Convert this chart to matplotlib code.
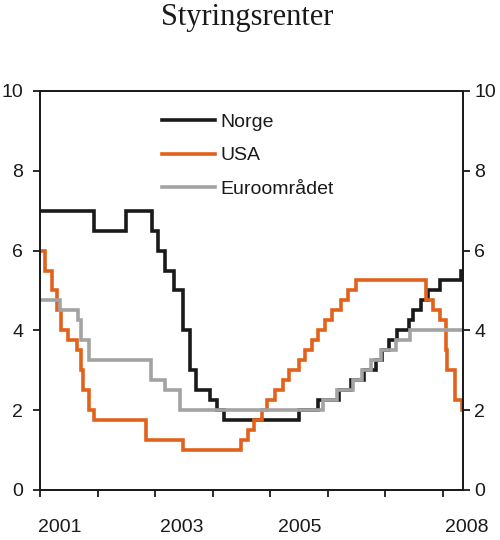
import matplotlib
matplotlib.use("Agg")
import matplotlib.pyplot as plt
import pandas as pd

plt.rcParams['font.family'] = ['Liberation Sans', 'DejaVu Sans']

# ---- data ----
norge_dates = ["2001-01-01", "2001-12-12", "2002-07-03", "2002-12-11", "2003-01-22",
               "2003-03-05", "2003-04-30", "2003-06-25", "2003-08-13", "2003-09-17",
               "2003-12-17", "2004-01-28", "2004-03-11", "2005-06-30", "2005-11-02",
               "2006-03-16", "2006-05-31", "2006-08-16", "2006-11-01", "2006-12-13",
               "2007-01-24", "2007-03-15", "2007-05-30", "2007-06-27", "2007-08-15",
               "2007-09-26", "2007-12-12", "2008-04-23"]
norge_rates = [7.0, 6.5, 7.0, 6.5, 6.0,
               5.5, 5.0, 4.0, 3.0, 2.5,
               2.25, 2.0, 1.75, 2.0, 2.25,
               2.5, 2.75, 3.0, 3.25, 3.5,
               3.75, 4.0, 4.25, 4.5, 4.75,
               5.0, 5.25, 5.5]

usa_dates = ["2001-01-01", "2001-01-31", "2001-03-20", "2001-04-18", "2001-05-15",
             "2001-06-27", "2001-08-21", "2001-09-17", "2001-10-02", "2001-11-06",
             "2001-12-11", "2002-11-06", "2003-06-25", "2004-06-30", "2004-08-10",
             "2004-09-21", "2004-11-10", "2004-12-14", "2005-02-02", "2005-03-22",
             "2005-05-03", "2005-06-30", "2005-08-09", "2005-09-20", "2005-11-01",
             "2005-12-13", "2006-01-31", "2006-03-28", "2006-05-10", "2006-06-29",
             "2007-09-18", "2007-10-31", "2007-12-11", "2008-01-22", "2008-01-30",
             "2008-03-18", "2008-04-30"]
usa_rates = [6.0, 5.5, 5.0, 4.5, 4.0,
             3.75, 3.5, 3.0, 2.5, 2.0,
             1.75, 1.25, 1.0, 1.25, 1.5,
             1.75, 2.0, 2.25, 2.5, 2.75,
             3.0, 3.25, 3.5, 3.75, 4.0,
             4.25, 4.5, 4.75, 5.0, 5.25,
             4.75, 4.5, 4.25, 3.5, 3.0,
             2.25, 2.0]

euro_dates = ["2001-01-01", "2001-05-10", "2001-08-30", "2001-09-17", "2001-11-08",
              "2002-12-05", "2003-03-06", "2003-06-05", "2005-12-01", "2006-03-02",
              "2006-06-08", "2006-08-03", "2006-10-05", "2006-12-07", "2007-03-08",
              "2007-06-06"]
euro_rates = [4.75, 4.5, 4.25, 3.75, 3.25,
              2.75, 2.5, 2.0, 2.25, 2.5,
              2.75, 3.0, 3.25, 3.5, 3.75,
              4.0]

series_names = ["Norge", "USA", "Euroområdet"]
end_date = "2008-05-08"
year_ticks = [2001, 2002, 2003, 2004, 2005, 2006, 2007, 2008]
year_labels = ["2001", "2003", "2005", "2008"]
y_ticks = [0, 2, 4, 6, 8, 10]


def to_decimal_year(dates):
    d = pd.to_datetime(pd.Series(dates))
    days = d.dt.is_leap_year.map({True: 366.0, False: 365.0})
    return list(d.dt.year + (d.dt.dayofyear - 1) / days)


def stepdata(dates, rates):
    x = to_decimal_year(list(dates) + [end_date])
    y = list(rates) + [rates[-1]]
    return x, y


colors = ["#1a1a1a", "#E2621C", "#A3A3A3"]
ink = "#1a1a1a"
xmax = to_decimal_year([end_date])[0]

fig = plt.figure(figsize=(5.0, 5.4), dpi=100)
ax = fig.add_axes([0.08, 0.0926, 0.846, 0.739])

for (d, r), name, c in zip([(norge_dates, norge_rates), (usa_dates, usa_rates),
                            (euro_dates, euro_rates)], series_names, colors):
    x, y = stepdata(d, r)
    ax.step(x, y, where="post", color=c, lw=2.6, label=name, solid_joinstyle="miter")

ax.set_xlim(2001.0, xmax)
ax.set_ylim(0, 10)
ax.set_yticks(y_ticks)
ax.set_yticklabels([str(v) for v in y_ticks])
ax.set_xticks(year_ticks)
ax.set_xticklabels([])

for s in ax.spines.values():
    s.set_linewidth(1.3)
    s.set_color(ink)

ax.tick_params(axis="y", direction="out", length=5, width=1.3, pad=7,
               labelsize=14, colors=ink)
ax.tick_params(axis="x", direction="out", length=5, width=1.3, colors=ink)

ax2 = ax.twinx()
ax2.set_ylim(0, 10)
ax2.set_yticks(y_ticks)
ax2.set_yticklabels([str(v) for v in y_ticks])
ax2.tick_params(axis="y", direction="out", length=5, width=1.3, pad=3,
                labelsize=14, colors=ink)
for s in ax2.spines.values():
    s.set_linewidth(1.3)
    s.set_color(ink)

label_pos = [2001.35, 2003.47, 2005.51, 2008.42]
for xpos, lab in zip(label_pos, year_labels):
    ax.text(xpos, -0.095, lab, transform=ax.get_xaxis_transform(),
            ha="center", va="center", fontsize=14, color=ink, clip_on=False)

leg = ax.legend(loc="upper left", bbox_to_anchor=(0.288, 0.943), frameon=False,
                fontsize=14, handlelength=2.75, handletextpad=0.25,
                labelspacing=0.8, borderpad=0, borderaxespad=0)
for t in leg.get_texts():
    t.set_color(ink)

fig.text(0.495, 0.967, "Styringsrenter", ha="center", va="center",
         fontsize=22, family=["Liberation Serif", "DejaVu Serif"], color=ink)

fig.savefig("out.png", dpi=100)
